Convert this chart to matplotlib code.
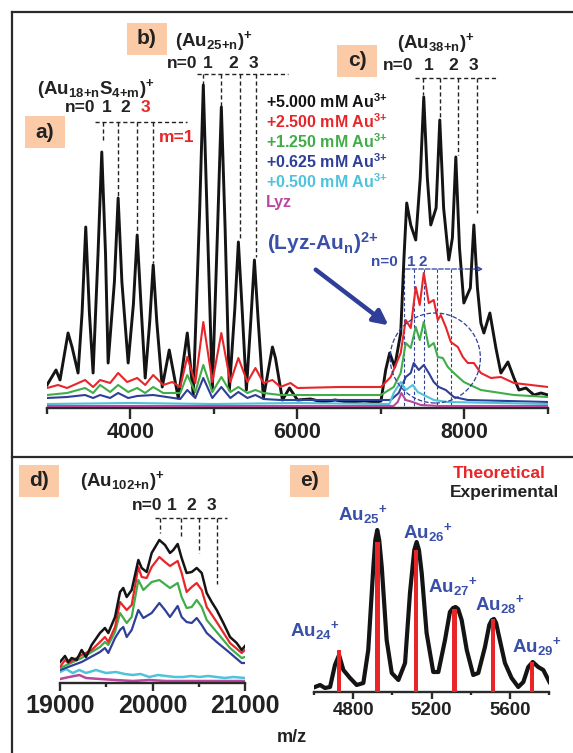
import numpy as np
import matplotlib
matplotlib.use('Agg')
import matplotlib.pyplot as plt
from matplotlib.lines import Line2D
from matplotlib.patches import Rectangle, Ellipse

plt.rcParams['font.family'] = ['Liberation Sans', 'DejaVu Sans']
plt.rcParams['font.weight'] = 'bold'
plt.rcParams['mathtext.fontset'] = 'custom'
plt.rcParams['mathtext.rm'] = 'Liberation Sans:bold'
plt.rcParams['mathtext.it'] = 'Liberation Sans:bold'
plt.rcParams['mathtext.bf'] = 'Liberation Sans:bold'

# ---- panels a-c : full spectra, (m/z, intensity a.u.)
blk_pts = [(3000, 23), (3036, 28), (3108, 38), (3156, 28), (3252, 75), (3300, 61), (3372, 35), (3420, 95),
           (3464, 181), (3508, 95), (3552, 35), (3611, 154), (3656, 256), (3701, 154), (3732, 45), (3807, 126),
           (3852, 210), (3897, 126), (3972, 45), (4035, 104), (4080, 173), (4125, 104), (4176, 30), (4230, 86),
           (4272, 143), (4315, 86), (4380, 21), (4464, 58), (4572, 10), (4680, 75), (4752, 13), (4827, 194),
           (4872, 323), (4917, 194), (4980, 18), (5043, 180), (5088, 301), (5133, 180), (5184, 18), (5250, 100),
           (5292, 166), (5336, 100), (5388, 18), (5442, 89), (5484, 148), (5528, 89), (5592, 10), (5700, 61),
           (5736, 50), (5820, 8), (5904, 20), (6000, 8), (6156, 9), (6300, 6), (6450, 8), (6600, 6), (6800, 7),
           (6950, 6), (7000, 7), (7056, 38), (7104, 55), (7164, 41), (7236, 75), (7275, 150), (7308, 205),
           (7356, 183), (7416, 168), (7470, 230), (7512, 311), (7555, 230), (7596, 183), (7660, 200), (7704, 288),
           (7750, 200), (7812, 148), (7855, 170), (7896, 251), (7940, 160), (7992, 105), (8070, 120), (8112, 183),
           (8155, 120), (8196, 85), (8232, 75), (8304, 95), (8376, 60), (8436, 35), (8520, 46), (8592, 30),
           (8652, 18), (8736, 20), (8832, 13), (8916, 15), (9000, 13)]
blk_mz, blk_i = zip(*blk_pts)

red_mz = [3000,3132,3240,3456,3552,3636,3756,3852,3960,4080,4176,4272,4392,4500,4596,4680,4776,4872,4980,5088,
          5196,5292,5400,5496,5592,5700,5796,5916,6000,6500,7000,7116,7236,7296,7356,7416,7464,7512,7572,7632,
          7680,7716,7776,7836,7920,7980,8040,8112,8196,8316,8436,8592,8796,9000]
red_i = [20,23,20,28,21,28,25,35,26,30,23,33,23,26,21,51,25,86,26,75,
         26,50,26,40,25,28,21,25,20,21,21,31,55,88,80,121,103,135,105,108,
         88,93,81,66,61,51,45,45,35,30,31,25,23,21]

grn_mz = [3000,3240,3456,3552,3636,3756,3852,3972,4080,4176,4272,4392,4596,4680,4776,4872,4980,5088,5196,5292,
          5400,5496,5592,5796,6500,7000,7152,7236,7296,7356,7416,7464,7512,7572,7632,7680,7740,7800,7872,7992,
          8196,8592,9000]
grn_i = [13,15,20,15,23,16,23,16,20,15,21,15,15,33,16,43,16,31,16,21,
         15,18,15,13,13,13,21,35,65,60,81,68,86,61,65,51,50,41,35,26,
         18,13,11]

blu_mz = [3000,3240,3456,3552,3636,3756,3852,3972,4080,4272,4596,4680,4776,4872,4980,5088,5196,5292,5400,5496,
          5592,5796,7116,7212,7296,7356,7392,7452,7512,7572,7632,7692,7776,7872,8040,9000]
blu_i = [10,11,13,10,13,10,15,10,12,13,9,18,10,30,10,21,10,16,10,13,
         9,8,8,15,31,35,45,38,43,35,26,21,18,11,8,6]

cyn_mz = [3000,4000,5000,6000,7100,7152,7236,7296,7380,7440,7512,7632,7800,8400,9000]
cyn_i = [4,5,4,5,4,15,26,18,23,16,13,8,6,5,4]

mag_mz = [3000,6000,7150,7200,7244,7296,7380,7476,7700,9000]
mag_i = [2,2,2,6,15,8,6,3,2,2]

# peak markers (n = 0..3)
a_pk, a_end = [3672, 3852, 4080, 4272], [266, 211, 175, 145]
b_pk, b_end = [4872, 5088, 5316, 5508], [321, 298, 168, 151]
c_pk, c_end = [7500, 7704, 7920, 8148], [313, 290, 253, 195]
lyz_pk = [7272, 7392, 7512, 7668, 7836]
conc = ['5.000', '2.500', '1.250', '0.625', '0.500']

# ---- panel d : Au102 region
d_mz = [19000,19054,19090,19126,19180,19234,19281,19342,19432,19486,19522,19595,19649,19684,19721,19775,19847,19883,
        19937,19991,20074,20135,20189,20225,20272,20315,20369,20424,20478,20532,20586,20640,20694,20766,20838,20910,
        20964,21000]
d_blk = [21,27,21,25,23,33,26,38,50,55,50,66,91,95,86,93,123,115,111,130,143,138,130,133,139,125,110,111,115,110,
         90,81,73,60,46,40,33,37]
d_red_mz = [19000,19054,19090,19234,19342,19432,19486,19522,19595,19649,19721,19775,19847,19883,19937,19991,20074,
            20135,20189,20272,20315,20369,20424,20478,20532,20586,20694,20838,20964,21000]
d_red = [16,23,20,28,33,41,46,41,56,81,73,78,116,106,105,116,126,121,117,122,110,91,96,100,93,76,61,40,30,33]
d_grn_mz = [19000,19234,19432,19486,19522,19595,19649,19721,19775,19847,19901,19991,20074,20189,20272,20315,20369,
            20424,20478,20532,20586,20694,20838,20964,21000]
d_grn = [15,25,36,41,38,51,70,60,66,103,93,101,103,95,100,86,75,76,83,76,63,51,35,25,26]
d_blu_mz = [19000,19234,19432,19486,19522,19595,19649,19684,19721,19775,19847,19901,19991,20074,20135,20189,20272,
            20315,20369,20424,20478,20532,20586,20694,20838,20964,21000]
d_blu = [13,21,31,35,30,45,53,56,46,53,73,65,70,80,73,66,77,66,61,60,65,58,50,41,30,20,20]
d_cyn_mz = [19000,19065,19137,19209,19281,19389,19497,19605,19700,19786,19870,19966,20060,20146,20240,20327,20420,
            20507,20600,20694,20780,20874,21000]
d_cyn = [11,14,10,13,10,13,10,11,9,8,9,6,8,7,6,6,7,6,7,6,5,6,5]
d_mag_mz = [19000,19100,19209,19281,19432,19600,19786,19966,20146,20327,20507,20700,21000]
d_mag = [4,6,8,5,4,3,2,3,2,2,2,2,2]

# ---- panel e : Au25 region, experimental vs theoretical
e_pts = [(4605, 5), (4631, 7), (4656, 4), (4682, 5), (4707, 27), (4728, 37), (4750, 22), (4784, 14), (4818, 7),
         (4852, 9), (4877, 42), (4903, 125), (4913, 152), (4923, 162), (4933, 152), (4946, 125), (4971, 52),
         (4997, 19), (5031, 12), (5065, 29), (5090, 99), (5112, 142), (5124, 150), (5136, 142), (5150, 119),
         (5175, 59), (5209, 20), (5235, 20), (5269, 52), (5294, 80), (5310, 84), (5323, 85), (5336, 83),
         (5354, 72), (5380, 42), (5413, 17), (5439, 19), (5473, 45), (5495, 67), (5508, 72), (5519, 73),
         (5530, 69), (5541, 59), (5575, 29), (5609, 14), (5643, 5), (5669, 10), (5694, 25), (5717, 30),
         (5745, 25), (5771, 22), (5802, 10)]
e_mz, e_exp = zip(*e_pts)
e_th_mz = [4727, 4924, 5121, 5318, 5515, 5712]
e_th = [42, 150, 142, 83, 73, 30]
e_names = ['24', '25', '26', '27', '28', '29']

W, H = 573, 753
BLK, RED, GRN, BLU = '#141414', '#e8262a', '#40ad48', '#2f3f99'
CYN, MAG, LBL, PEACH, FRM = '#4ec3dc', '#b8479d', '#3a50a8', '#fbcba8', '#2a2a2a'

fig = plt.figure(figsize=(W / 100, H / 100), dpi=100)


def ftext(px, py, s, **kw):
    kw.setdefault('va', 'center')
    kw.setdefault('fontweight', 'bold')
    kw.setdefault('color', '#222222')
    fig.text(px / W, 1 - py / H, s, **kw)


def tagbox(px, py, w, h, s):
    fig.add_artist(Rectangle((px / W, 1 - (py + h) / H), w / W, h / H,
                             transform=fig.transFigure, fc=PEACH, ec='none'))
    ftext(px + w / 2, py + h / 2, s, ha='center', fontsize=15)


def style(ax, size, major, minor, ln):
    for s in ['top', 'left', 'right']:
        ax.spines[s].set_visible(False)
    ax.spines['bottom'].set_linewidth(1.7)
    ax.spines['bottom'].set_color(FRM)
    ax.set_yticks([])
    ax.set_xticks(major)
    ax.set_xticks(minor, minor=True)
    ax.tick_params(axis='x', which='major', length=ln, width=1.7, color=FRM,
                   labelsize=size, pad=2, labelcolor='#222222')
    ax.tick_params(axis='x', which='minor', length=ln * 0.5, width=1.7, color=FRM)
    for t in ax.get_xticklabels():
        t.set_fontweight('bold')
    ax.patch.set_alpha(0)


def dash(ax, xs, ys, c='#222222', lw=1.0):
    ax.plot(xs, ys, color=c, lw=lw, ls=(0, (3, 2)), clip_on=False, zorder=1)


# ---------------- top panel
ax1 = fig.add_axes([47 / W, 1 - 408 / H, 501 / W, 348 / H])
ax1.plot(blk_mz, blk_i, color=BLK, lw=2.1, zorder=3)
ax1.plot(red_mz, red_i, color=RED, lw=1.5, zorder=4)
ax1.plot(grn_mz, grn_i, color=GRN, lw=1.5, zorder=4)
ax1.plot(blu_mz, blu_i, color=BLU, lw=1.5, zorder=4)
ax1.plot(cyn_mz, cyn_i, color=CYN, lw=1.5, zorder=4)
ax1.plot(mag_mz, mag_i, color=MAG, lw=1.5, zorder=4)
ax1.set_xlim(3000, 9000)
ax1.set_ylim(0, 348)
style(ax1, 15.5, [4000, 6000, 8000], [3000, 5000, 7000, 9000], 8)

for pk, top, end, x0, x1 in [(a_pk, 286, a_end, 3576, 4680),
                             (b_pk, 334, b_end, 4800, 5886),
                             (c_pk, 330, c_end, 7408, 8400)]:
    dash(ax1, [x0, x1], [top, top])
    for x, e in zip(pk, end):
        dash(ax1, [x, x], [top, e])

for x in lyz_pk:
    dash(ax1, [x, x], [139, 0], c=BLU, lw=0.8)
ax1.annotate('', xy=(8256, 139), xytext=(7260, 139),
             arrowprops=dict(arrowstyle='->', color=BLU, lw=0.9, ls='--'))
ax1.add_patch(Ellipse((7650, 50), 1080, 90, fill=False, ec=BLU, lw=0.9, ls='--', zorder=5))
ax1.annotate('', xy=(7116, 81), xytext=(6192, 140),
             arrowprops=dict(arrowstyle='-|>', color=BLU, lw=3.2, mutation_scale=22))

tagbox(25, 116, 40, 32, 'a)')
tagbox(127, 23, 40, 32, 'b)')
tagbox(337, 45, 40, 32, 'c)')
ftext(37, 89, r'(Au$_{18{+}n}$S$_{4{+}m}$)$^{+}$', fontsize=13.5)
ftext(95, 108, 'n=0', ha='right', fontsize=12.5)
for x, s in zip([107, 125], ['1', '2']):
    ftext(x, 108, s, ha='center', fontsize=12.5)
ftext(145, 108, '3', ha='center', fontsize=12.5, color=RED)
ftext(159, 137, 'm=1', fontsize=12.5, color=RED)

ftext(175, 41, r'(Au$_{25{+}n}$)$^{+}$', fontsize=13.5)
ftext(197, 63, 'n=0', ha='right', fontsize=12.5)
for x, s in zip([208, 233, 253], ['1', '2', '3']):
    ftext(x, 63, s, ha='center', fontsize=12.5)

ftext(397, 43, r'(Au$_{38{+}n}$)$^{+}$', fontsize=13.5)
ftext(413, 66, 'n=0', ha='right', fontsize=12.5)
for x, s in zip([429, 453, 473], ['1', '2', '3']):
    ftext(x, 66, s, ha='center', fontsize=12.5)

for i, (cv, col) in enumerate(zip(conc, [BLK, RED, GRN, BLU, CYN])):
    ftext(266, 102 + 20 * i, r'+%s mM Au$^{3{+}}$' % cv, fontsize=11.5, color=col)
ftext(266, 203, 'Lyz', fontsize=11.5, color=MAG)

ftext(267, 243, r'(Lyz-Au$_{n}$)$^{2{+}}$', fontsize=15, color=LBL)
ftext(398, 262, 'n=0', ha='right', fontsize=11, color=LBL)
ftext(411, 262, '1', ha='center', fontsize=11, color=LBL)
ftext(423, 262, '2', ha='center', fontsize=11, color=LBL)

# ---------------- panel d
ax2 = fig.add_axes([60 / W, 1 - 683 / H, 185 / W, 163 / H])
ax2.plot(d_mag_mz, d_mag, color=MAG, lw=1.8)
ax2.plot(d_cyn_mz, d_cyn, color=CYN, lw=1.8)
ax2.plot(d_blu_mz, d_blu, color=BLU, lw=1.6)
ax2.plot(d_grn_mz, d_grn, color=GRN, lw=1.6)
ax2.plot(d_red_mz, d_red, color=RED, lw=1.6)
ax2.plot(d_mz, d_blk, color=BLK, lw=1.8)
ax2.set_xlim(19000, 21000)
ax2.set_ylim(0, 163)
style(ax2, 18, [19000, 20000, 21000], [19500, 20500], 6)

d_pk, d_end = [20081, 20308, 20503, 20697], [150, 145, 130, 99]
dash(ax2, [20027, 20805], [165, 165])
for x, e in zip(d_pk, d_end):
    dash(ax2, [x, x], [165, e])

tagbox(19, 465, 40, 32, 'd)')
ftext(80, 481, r'(Au$_{102{+}n}$)$^{+}$', fontsize=13.5)
ftext(162, 505, 'n=0', ha='right', fontsize=12.5)
for x, s in zip([172, 191, 211], ['1', '2', '3']):
    ftext(x, 505, s, ha='center', fontsize=12.5)

# ---------------- panel e
ax3 = fig.add_axes([314 / W, 1 - 692 / H, 235 / W, 172 / H])
ax3.plot(e_mz, e_exp, color=BLK, lw=3.0, solid_joinstyle='round')
ax3.bar(e_th_mz, e_th, width=22, color=RED, zorder=3)
ax3.set_xlim(4600, 5800)
ax3.set_ylim(0, 172)
style(ax3, 13.5, [4800, 5200, 5600], [4600, 5000, 5400, 5800], 5)

tagbox(290, 465, 39, 32, 'e)')
ftext(453, 473, 'Theoretical', fontsize=12.5, color=RED)
ftext(450, 493, 'Experimental', fontsize=12.5)
for (px, py), nm in zip([(290, 630), (338, 515), (403, 532), (428, 587), (475, 604), (512, 647)], e_names):
    ftext(px, py, r'Au$_{%s}$$^{+}$' % nm, fontsize=13.5, color=LBL)

ftext(292, 737, 'm/z', ha='center', fontsize=13)

# frame lines
for xs, ys in [([12, 573], [12, 12]), ([12, 12], [12, 753]), ([12, 573], [457, 457])]:
    fig.add_artist(Line2D([x / W for x in xs], [1 - y / H for y in ys],
                          transform=fig.transFigure, color=FRM, lw=1.6))

fig.savefig('out.png', dpi=100)
